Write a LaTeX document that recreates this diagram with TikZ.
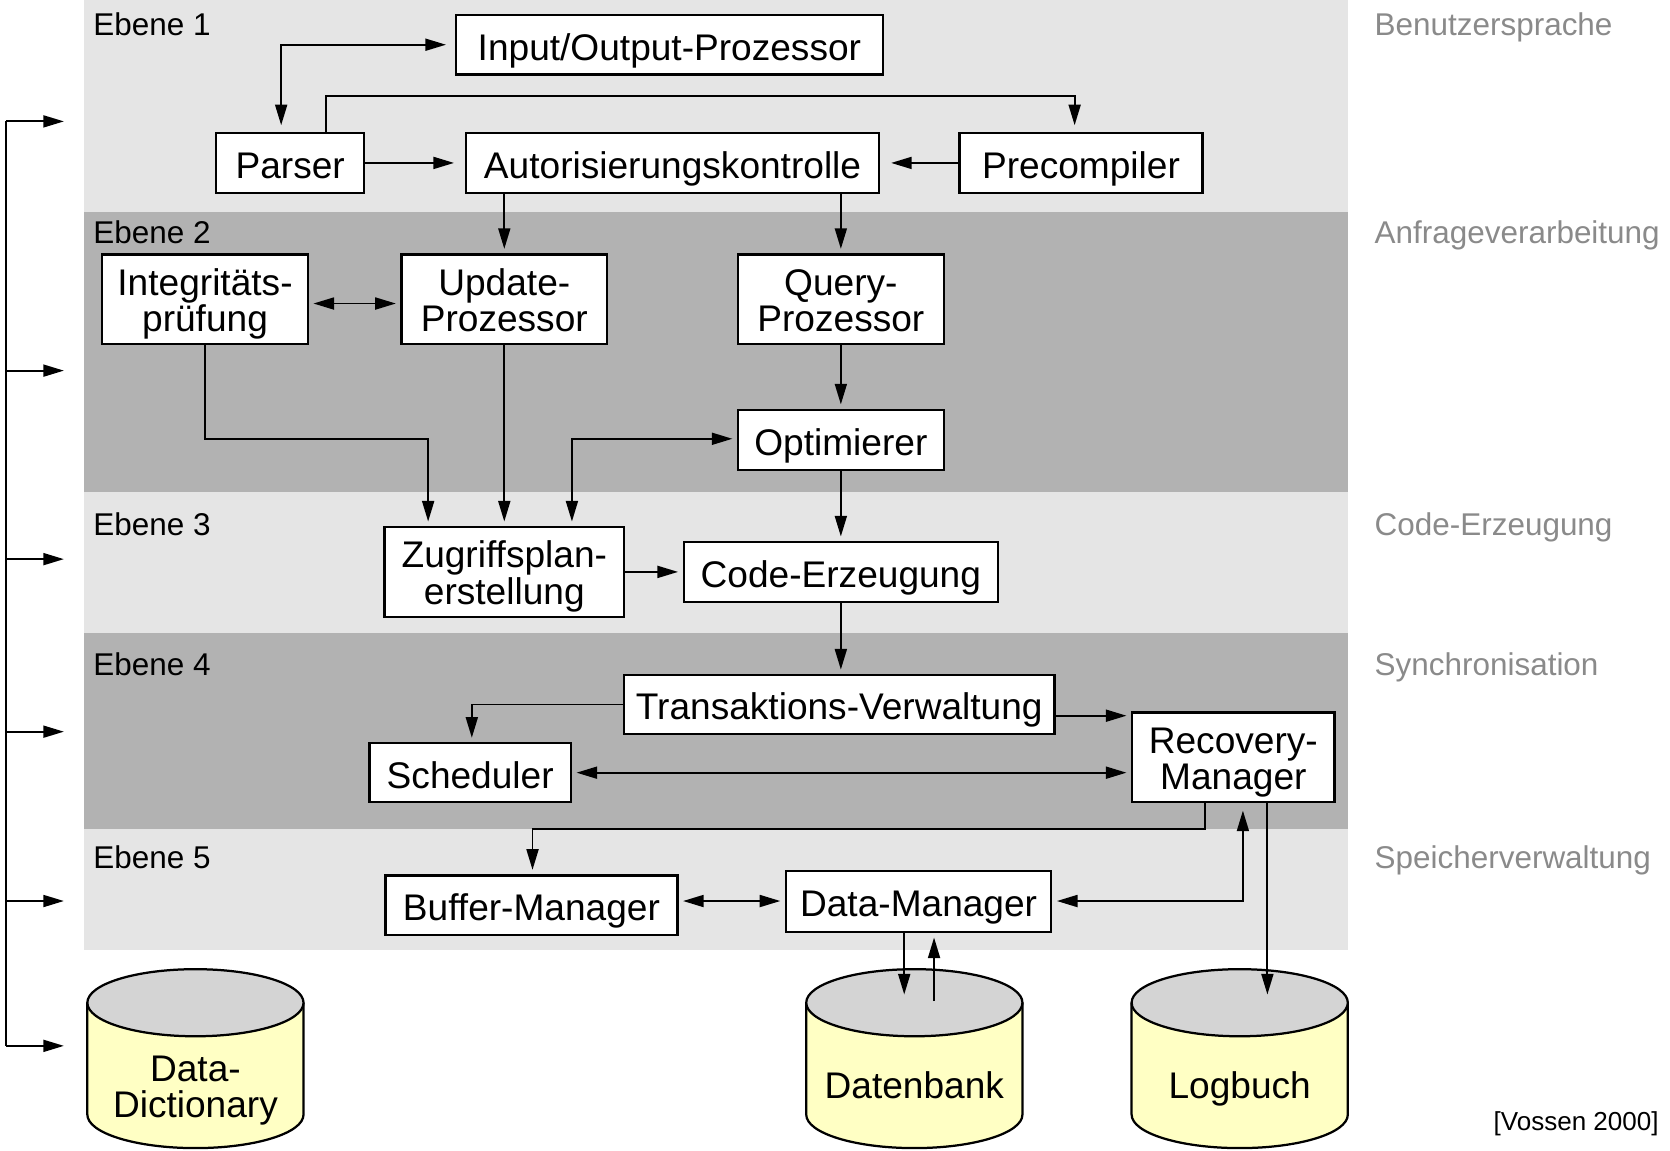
\documentclass[tikz,border=0pt]{standalone}
\usepackage{fontspec}
\setmainfont{Liberation Sans}
\usetikzlibrary{arrows.meta,calc}
\definecolor{bandlight}{HTML}{E5E5E5}
\definecolor{banddark}{HTML}{B2B2B2}
\definecolor{laygray}{HTML}{8A8A8A}
\definecolor{dbbody}{HTML}{FFFFC4}
\definecolor{dbtop}{HTML}{D4D4D4}

\begin{document}
\begin{tikzpicture}[x=0.01cm, y=-0.01cm,
  >={Triangle[length=5.5pt,width=3.2pt]},
  box/.style={draw, fill=white, line width=0.6pt, inner sep=0pt,
    font=\fontsize{9.9}{9.8}\selectfont, text height=8.6pt, text depth=0.4pt},
  twobox/.style={draw, fill=white, line width=0.6pt, inner sep=0pt,
    align=center, font=\fontsize{9.9}{9.8}\selectfont, text height=17.9pt, text depth=0.5pt},
  conn/.style={line width=0.5pt, shorten >=1.2pt},
  both/.style={shorten <=1.2pt},
  layer/.style={anchor=base west, inner sep=0pt, font=\fontsize{8.4}{10}\selectfont},
  task/.style={anchor=base west, inner sep=0pt, text=laygray, font=\fontsize{8.4}{10}\selectfont},
  cyl/.style={line width=0.6pt},
  cyltext/.style={inner sep=0pt, font=\fontsize{9.9}{9.8}\selectfont, text height=8.6pt, text depth=0.4pt},
  cyltwo/.style={align=center, inner sep=0pt, font=\fontsize{9.9}{9.8}\selectfont, text height=17.9pt, text depth=0.5pt}
]
\useasboundingbox (0,0) rectangle (1568,1080);

% layer bands
\fill[bandlight] (79,0)   rectangle (1266,199);
\fill[banddark]  (79,199) rectangle (1266,462);
\fill[bandlight] (79,462) rectangle (1266,594);
\fill[banddark]  (79,594) rectangle (1266,778);
\fill[bandlight] (79,778) rectangle (1266,892);

% layer names and tasks
\node[layer] (e1) at (87,33)  {Ebene 1};
\node[layer] (e2) at (87,229) {Ebene 2};
\node[layer] (e3) at (87,503) {Ebene 3};
\node[layer] (e4) at (87,634) {Ebene 4};
\node[layer] (e5) at (87,815) {Ebene 5};
\node[task] (t1) at (1290,33)  {Benutzersprache};
\node[task] (t2) at (1290,229) {Anfrageverarbeitung};
\node[task] (t3) at (1290,503) {Code-Erzeugung};
\node[task] (t4) at (1290,634) {Synchronisation};
\node[task] (t5) at (1290,815) {Speicherverwaltung};

% components
\node[box, minimum width=4.01cm, minimum height=0.56cm] (io) at (628.5,42) {Input/Output-Prozessor};
\node[box, minimum width=1.39cm, minimum height=0.56cm] (parser) at (272.5,153) {Parser};
\node[box, minimum width=3.87cm, minimum height=0.56cm] (auth) at (631.5,153) {Autorisierungskontrolle};
\node[box, minimum width=2.28cm, minimum height=0.56cm] (precomp) at (1015,153) {Precompiler};
\node[twobox, minimum width=1.93cm, minimum height=0.84cm] (integ) at (192.5,281) {Integritäts-\\prüfung};
\node[twobox, minimum width=1.93cm, minimum height=0.84cm] (update) at (473.5,281) {Update-\\Prozessor};
\node[twobox, minimum width=1.93cm, minimum height=0.84cm] (query) at (789.5,281) {Query-\\Prozessor};
\node[box, minimum width=1.93cm, minimum height=0.56cm] (optim) at (789.5,413) {Optimierer};
\node[twobox, minimum width=2.25cm, minimum height=0.84cm] (zugriff) at (473.5,537) {Zugriffsplan-\\erstellung};
\node[box, minimum width=2.95cm, minimum height=0.56cm] (code) at (789.5,537) {Code-Erzeugung};
\node[box, minimum width=4.04cm, minimum height=0.55cm] (trans) at (788,661.5) {Transaktions-Verwaltung};
\node[box, minimum width=1.89cm, minimum height=0.55cm] (sched) at (441.5,725.5) {Scheduler};
\node[twobox, minimum width=1.90cm, minimum height=0.84cm] (recov) at (1158,711) {Recovery-\\Manager};
\node[box, minimum width=2.74cm, minimum height=0.56cm] (buffer) at (499,850) {Buffer-Manager};
\node[box, minimum width=2.49cm, minimum height=0.57cm] (datam) at (862.5,846.5) {Data-Manager};

% storage cylinders
\draw[cyl, fill=dbbody] (82,941.5) -- (82,1046.5) arc[start angle=180, end angle=0, x radius=101.5, y radius=31.5] -- (285,941.5);
\draw[cyl, fill=dbtop] (183.5,941.5) ellipse [x radius=101.5, y radius=31.5];
\node[cyltwo] (dd) at (183.5,1019) {Data-\\Dictionary};

\draw[cyl, fill=dbbody] (757,941.5) -- (757,1046.5) arc[start angle=180, end angle=0, x radius=101.5, y radius=31.5] -- (960,941.5);
\draw[cyl, fill=dbtop] (858.5,941.5) ellipse [x radius=101.5, y radius=31.5];
\node[cyltext] (db) at (858.5,1017) {Datenbank};

\draw[cyl, fill=dbbody] (1062.5,941.5) -- (1062.5,1046.5) arc[start angle=180, end angle=0, x radius=101.5, y radius=31.5] -- (1265.5,941.5);
\draw[cyl, fill=dbtop] (1164,941.5) ellipse [x radius=101.5, y radius=31.5];
\node[cyltext] (lb) at (1164,1017) {Logbuch};

% connectors, level 1
\coordinate (k1) at (264,42);
\draw[conn,<->, shorten <=2.3pt, shorten >=1.8pt] (io.west) -- (k1) -- (k1 |- parser.north);
\coordinate (k2) at (306,90);
\coordinate (k3) at (1009,90);
\draw[conn,->, shorten >=1.8pt] (k2 |- parser.north) -- (k2) -- (k3) -- (k3 |- precomp.north);
\draw[conn,->, shorten >=3pt] (parser) -- (auth);
\draw[conn,->, shorten >=3pt] (precomp) -- (auth);

% level 2
\draw[conn,->] (auth.south -| update.north) -- (update.north);
\draw[conn,->] (auth.south -| query.north) -- (query.north);
\coordinate (k4) at (0,285);
\draw[conn,both,<->] (integ.east |- k4) -- (update.west |- k4);
\draw[conn,->] (query) -- (optim);
\coordinate (k5) at (402,412);
\draw[conn,->] (integ.south) |- (k5) -- (k5 |- zugriff.north);
\draw[conn,->] (update) -- (zugriff);
\coordinate (k6) at (537,412);
\draw[conn,both,<->] (k6 |- zugriff.north) -- (k6) -- (optim.west |- k6);

% level 3
\draw[conn,->] (optim) -- (code);
\draw[conn,->] (zugriff) -- (code);
\draw[conn,->] (code.south) -- (code.south |- trans.north);

% level 4
\coordinate (k7) at (443,661.5);
\draw[conn,->] (trans.west) -- (k7) -- (k7 |- sched.north);
\coordinate (k8) at (0,672);
\draw[conn,->] (trans.east |- k8) -- (recov.west |- k8);
\draw[conn,both,<->] (sched.east) -- (recov.west |- sched.east);

% level 5
\coordinate (k9) at (1131,778);
\coordinate (k10) at (500,778);
\draw[conn,->] (k9 |- recov.south) -- (k9) -- (k10) -- (k10 |- buffer.north);
\coordinate (k11) at (1167,846);
\draw[conn,<->, shorten <=2pt] (k11 |- recov.south) -- (k11) -- (datam.east |- k11);
\coordinate (k12) at (1190,938);
\draw[conn,->] (k12 |- recov.south) -- (k12);
\coordinate (k13) at (0,846);
\draw[conn,both,<->] (buffer.east |- k13) -- (datam.west |- k13);

% storage access
\coordinate (dbA) at (849,938);
\draw[conn,->] (dbA |- datam.south) -- (dbA);
\coordinate (dbB) at (877,940);
\draw[conn,->] (dbB) -- (dbB |- datam.south);

% meta-data bus on the left
\coordinate (busTop) at (6,114);
\coordinate (busBot) at (6,982);
\draw[line width=0.5pt] (busTop) -- (busBot);
\foreach \yy/\nn in {114/1, 348/2, 525/3, 687/4, 846/5, 982/6} {
  \coordinate (fb\nn) at (60,\yy);
  \draw[line width=0.5pt,->] (busTop |- fb\nn) -- (fb\nn);
}

\node[anchor=east, inner sep=0pt, font=\fontsize{6.95}{8}\selectfont] (src) at (1558,1055) {[Vossen 2000]};
\end{tikzpicture}
\end{document}
